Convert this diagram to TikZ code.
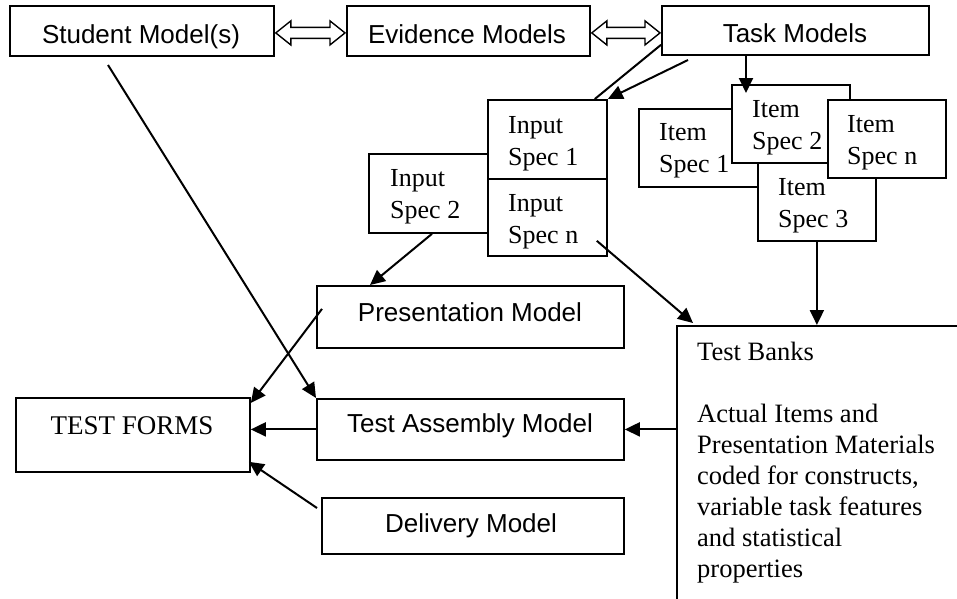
\documentclass[tikz,border=0pt]{standalone}
\usepackage{fontspec}
\setmainfont{Liberation Serif}
\newfontfamily\sansf{Liberation Sans}
\usetikzlibrary{arrows.meta,calc}
\newcommand\dblarrow[2]{%
  \draw[line width=1.4pt, fill=white] let \p1=(#1), \p2=(#2) in
   (\x1+1pt,\y1-2pt) -- (\x1+16pt,\y1+10pt) -- (\x1+16pt,\y1+3.5pt) -- (\x2-16pt,\y1+3.5pt)
   -- (\x2-16pt,\y1+10pt) -- (\x2-1pt,\y1-2pt) -- (\x2-16pt,\y1-14pt) -- (\x2-16pt,\y1-7.5pt)
   -- (\x1+16pt,\y1-7.5pt) -- (\x1+16pt,\y1-14pt) -- cycle;}
\begin{document}
\begin{tikzpicture}[x=1pt,y=-1pt,
  box/.style={draw, line width=1.8pt, fill=white, anchor=north west, inner sep=0pt},
  sanstxt/.style={font=\sansf\fontsize{26}{31}\selectfont, inner sep=0pt, anchor=base},
  sertxt/.style={font=\fontsize{26}{31.5}\selectfont, inner sep=0pt, align=left, anchor=base west},
  conn/.style={line width=2pt},
  arr/.style={conn, -{Triangle[length=15pt,width=14pt]}},
]
\clip (0,0) rectangle (957,598);
\useasboundingbox (0,0) rectangle (957,598);

% top row
\node[box, minimum width=264, minimum height=50] (sm) at (9,5) {};
\node[sanstxt] (smT) at (141,43) {Student Model(s)};
\node[box, minimum width=243, minimum height=50] (em) at (346,5) {};
\node[sanstxt] (emT) at (467,43) {Evidence Models};
\node[box, minimum width=267, minimum height=49] (tm) at (661,5) {};
\node[sanstxt] (tmT) at (795,42) {Task Models};
\dblarrow{sm.east}{em.west}
\dblarrow{em.east}{tm.west}

% input specs (base anchor = last line baseline)
\node[box, minimum width=132, minimum height=79] (is2) at (368,153) {};
\node[sertxt] (is2T) at (390,218) {Input\\Spec 2};
\node[box, minimum width=119, minimum height=79] (is1) at (487,99) {};
\node[sertxt] (is1T) at (508,165) {Input\\Spec 1};
\node[box, minimum width=119, minimum height=77] (isn) at (487,178) {};
\node[sertxt] (isnT) at (508,243) {Input\\Spec n};

% item specs
\node[box, minimum width=142, minimum height=78] (it1) at (638,108) {};
\node[sertxt] (it1T) at (659,172) {Item\\Spec 1};
\node[box, minimum width=118, minimum height=78] (it3) at (757,162) {};
\node[sertxt] (it3T) at (778,227) {Item\\Spec 3};
\node[box, minimum width=118, minimum height=78] (it2) at (731,84) {};
\node[sertxt] (it2T) at (752,149) {Item\\Spec 2};
\node[box, minimum width=118, minimum height=78] (itn) at (827,99) {};
\node[sertxt] (itnT) at (847,164) {Item\\Spec n};

% middle models
\node[box, minimum width=307, minimum height=62] (pm) at (316,285) {};
\node[sanstxt] (pmT) at (470,321) {Presentation Model};
\node[box, minimum width=307, minimum height=61] (ta) at (316,398) {};
\node[sanstxt] (taT) at (470,432) {Test Assembly Model};
\node[box, minimum width=302, minimum height=56] (dm) at (321,497) {};
\node[sanstxt] (dmT) at (471,532) {Delivery Model};

% test forms
\node[box, minimum width=234, minimum height=74] (tf) at (15,397) {};
\node[sertxt, anchor=base, font=\fontsize{27}{31}\selectfont] (tfT) at (132,434) {TEST FORMS};

% test banks
\node[box, minimum width=320, minimum height=320] (tb) at (676,325) {};
\node[sertxt, font=\fontsize{26.5}{31}\selectfont] (tbT) at (697,577)
  {Test Banks\\[31pt]Actual Items and\\Presentation Materials\\coded for constructs,\\variable task features\\and statistical\\properties};

% connectors
\coordinate (cB) at (688,60);
\coordinate (cS) at (108,65);
\draw[conn] ($(tm.south west)+(0,-11)$) -- ($(is1.north east)+(-13,0)$);
\draw[arr] (cB) -- (is1.north east);
\draw[arr] ($(tm.south west)+(85,0)$) -- ($(it2.north west)+(15,9)$);
\draw[arr] (it3.south) -- (it3.south |- tb.north);
\draw[arr] ($(isn.south east)+(-11,-16)$) -- ($(tb.north west)+(17,-2)$);
\draw[arr] ($(is2.south west)+(64,0)$) -- ($(pm.north west)+(54,0)$);
\draw[arr] (cS) -- (ta.north west);
\draw[arr] ($(pm.west)+(6,-8)$) -- ($(tf.north east)+(0,6)$);
\draw[arr] (ta.west) -- (ta.west -| tf.east);
\draw[arr] ($(dm.north west)+(-4,11)$) -- ($(tf.south east)+(-2,-11)$);
\draw[arr] (ta.east -| tb.west) -- (ta.east);
\end{tikzpicture}
\end{document}
